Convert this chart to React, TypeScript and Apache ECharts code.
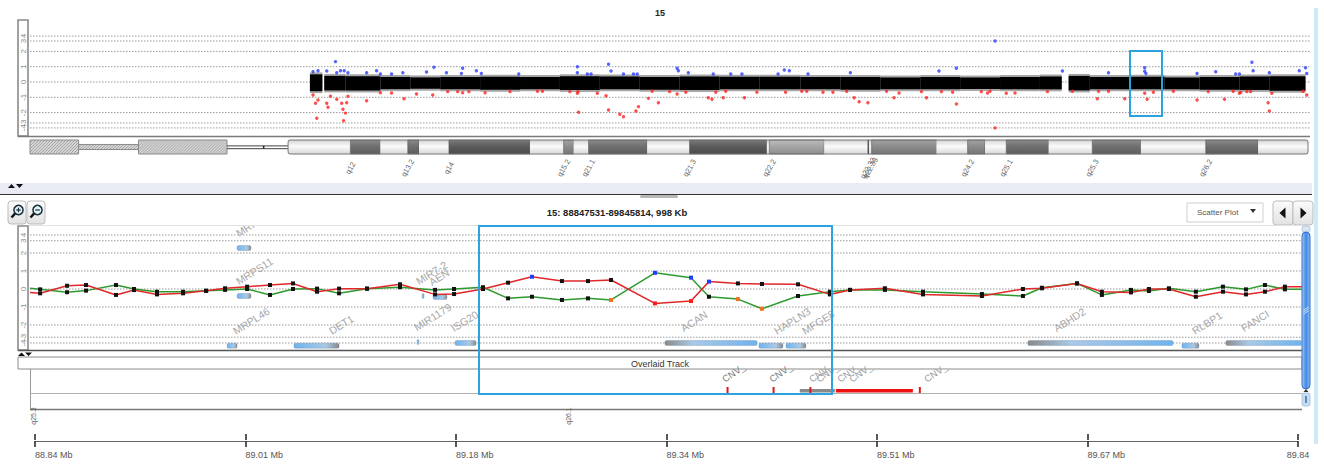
import React, { useEffect, useRef } from "react";
import * as echarts from "echarts";

const W = 1324;
const H = 466;
const FONT = "'Liberation Sans', Arial, sans-serif";

// ---------------- top panel: whole chromosome 15 (positions in Mb) ----------------
const chromTitle = "15";
const chromLengthMb = 102.5;
const logRatioTicks = [4, 3, 2, 1, 0, -1, -2, -3, -4];

const cytoStart = [0, 3.9, 8.7, 15.8, 20.7, 25.7, 28.1, 30.3, 31.2, 33.6, 40.1, 42.8, 43.6, 44.8, 49.5, 52.9, 59.1, 59.3, 63.7, 67.2, 67.3, 67.5, 72.7, 75.2, 76.6, 78.3, 81.7, 85.2, 89.1, 94.3, 98.5];
const cytoEnd = [3.9, 8.7, 15.8, 20.7, 25.7, 28.1, 30.3, 31.2, 33.6, 40.1, 42.8, 43.6, 44.8, 49.5, 52.9, 59.1, 59.3, 63.7, 67.2, 67.3, 67.5, 72.7, 75.2, 76.6, 78.3, 81.7, 85.2, 89.1, 94.3, 98.5, 102.5];
const cytoStain = ["gvar", "stalk", "gvar", "acen", "gneg", "gpos75", "gneg", "gpos75", "gneg", "gpos100", "gneg", "gpos50", "gneg", "gpos75", "gneg", "gpos100", "gneg", "gpos25", "gneg", "gpos100", "gneg", "gpos50", "gneg", "gpos50", "gneg", "gpos75", "gneg", "gpos75", "gneg", "gpos75", "gneg"];
const qArmStart = 20.7;

const cytoLabelName = ["q12", "q13.2", "q14", "q15.2", "q21.1", "q21.3", "q22.2", "q22.32", "q22.33", "q24.2", "q25.1", "q25.3", "q26.2"];
const cytoLabelPos = [25.7, 30.3, 33.6, 42.8, 44.8, 52.9, 59.3, 67.2, 67.4, 75.2, 78.3, 85.2, 94.3];

// dense probe cloud (log ratio envelope per segment)
const denseStart = [22.45, 23.6, 25.3, 28.1, 30.5, 32.9, 36.1, 39.3, 42.5, 45.7, 48.9, 52.1, 55.3, 58.5, 61.8, 65.0, 68.2, 71.4, 74.6, 77.8, 81.0, 83.3, 85.0, 88.2, 91.0, 93.8, 97.0, 99.4];
const denseEnd = [23.45, 25.3, 28.1, 30.5, 32.9, 36.1, 39.3, 42.5, 45.7, 48.9, 52.1, 55.3, 58.5, 61.8, 65.0, 68.2, 71.4, 74.6, 77.8, 81.0, 82.75, 85.0, 88.2, 91.0, 93.8, 97.0, 99.4, 102.3];
const denseHi = [0.5, 0.4, 0.38, 0.33, 0.3, 0.33, 0.35, 0.32, 0.38, 0.36, 0.33, 0.36, 0.34, 0.35, 0.33, 0.32, 0.3, 0.32, 0.29, 0.32, 0.36, 0.4, 0.33, 0.35, 0.3, 0.33, 0.36, 0.38];
const denseLo = [-0.6, -0.55, -0.55, -0.47, -0.44, -0.47, -0.5, -0.47, -0.52, -0.48, -0.5, -0.52, -0.47, -0.48, -0.47, -0.5, -0.47, -0.47, -0.45, -0.47, -0.48, -0.55, -0.48, -0.48, -0.47, -0.5, -0.52, -0.57];

// gains (blue) and losses (red)
const gainPos = [22.7, 23.1, 23.8, 24.5, 24.6, 24.9, 25.2, 25.5, 27.0, 27.8, 28.1, 29.0, 29.9, 31.8, 32.4, 33.4, 34.6, 34.7, 35.8, 36.2, 39.2, 43.9, 43.9, 44.7, 45.0, 46.4, 46.6, 47.6, 48.4, 48.7, 51.9, 52.0, 52.8, 54.8, 56.2, 57.1, 60.0, 60.5, 60.9, 62.4, 65.8, 72.9, 74.3, 77.4, 82.8, 86.5, 89.4, 89.4, 89.5, 93.6, 95.1, 96.7, 97.0, 98.0, 98.1, 99.4, 101.8, 102.3, 102.4];
const gainVal = [0.67, 0.74, 0.72, 1.33, 0.6, 0.74, 0.74, 0.6, 0.6, 0.74, 0.52, 0.52, 0.6, 0.65, 0.96, 0.6, 0.55, 0.9, 0.74, 0.55, 0.52, 1.0, 0.6, 0.52, 0.52, 1.16, 0.72, 0.52, 0.52, 0.52, 0.9, 0.74, 0.6, 0.52, 0.52, 0.52, 0.52, 0.78, 0.74, 0.52, 0.6, 0.72, 0.9, 3.0, 0.72, 0.6, 0.93, 0.7, 0.55, 0.55, 0.67, 0.52, 0.52, 1.29, 0.74, 0.6, 0.74, 0.93, 0.55];
const lossPos = [22.7, 22.9, 23.0, 23.1, 23.8, 23.9, 24.1, 24.6, 25.0, 25.1, 25.15, 25.3, 25.4, 25.5, 27.0, 28.1, 29.0, 30.0, 31.0, 32.3, 33.5, 34.3, 34.7, 35.2, 36.5, 38.5, 40.7, 41.1, 43.3, 43.9, 43.95, 44.0, 45.5, 46.2, 46.4, 47.3, 47.6, 48.6, 48.8, 49.6, 49.9, 50.4, 51.3, 51.9, 52.6, 54.4, 54.7, 55.0, 55.6, 55.8, 57.3, 58.3, 60.6, 61.9, 62.3, 63.6, 64.4, 65.5, 66.1, 66.5, 67.2, 68.7, 69.3, 69.7, 71.5, 71.9, 73.1, 74.0, 74.3, 76.3, 76.8, 77.0, 77.4, 78.3, 79.0, 81.6, 83.6, 85.6, 85.7, 86.5, 87.8, 89.4, 89.6, 90.1, 91.7, 93.6, 94.5, 95.8, 96.5, 97.0, 97.1, 97.6, 97.9, 99.3, 99.4, 99.6, 102.1, 102.4];
const lossVal = [-0.85, -1.39, -2.54, -1.18, -1.39, -1.65, -0.93, -1.13, -1.39, -1.78, -2.78, -2.05, -1.35, -0.93, -1.22, -0.7, -0.72, -1.09, -0.78, -0.85, -0.63, -0.63, -0.7, -0.63, -0.7, -0.63, -0.6, -0.6, -0.63, -0.74, -0.63, -1.98, -0.74, -0.9, -1.83, -2.16, -2.4, -1.9, -1.61, -1.07, -0.6, -1.35, -0.63, -0.78, -0.67, -1.03, -1.13, -0.67, -1.03, -0.6, -1.03, -0.67, -0.67, -0.6, -0.6, -0.67, -0.67, -0.6, -1.03, -1.29, -1.35, -0.6, -1.03, -0.72, -0.63, -1.03, -0.63, -0.67, -1.44, -0.63, -0.72, -0.6, -4.0, -0.74, -0.72, -0.63, -0.6, -1.09, -0.6, -0.6, -1.09, -0.74, -1.13, -0.67, -0.6, -1.18, -0.63, -1.13, -0.6, -0.74, -0.67, -0.63, -0.63, -1.35, -1.9, -0.74, -0.6, -0.85];

// ---------------- middle panel: 15:88847531-89845814 (Mb) ----------------
const regionTitle = "15: 88847531-89845814, 998 Kb";
const regionStartBp = 88847531;
const regionEndBp = 89845814;

const probePos = [88.8435, 88.8515, 88.8728, 88.8878, 88.9115, 88.9257, 88.9439, 88.9645, 88.9827, 88.9977, 89.0151, 89.0332, 89.0514, 89.0704, 89.0878, 89.1099, 89.136, 89.1637, 89.1787, 89.2016, 89.2214, 89.2403, 89.264, 89.2846, 89.3028, 89.3375, 89.366, 89.3802, 89.4031, 89.4221, 89.4506, 89.4758, 89.4917, 89.5193, 89.5494, 89.596, 89.6284, 89.6434, 89.6711, 89.6908, 89.7138, 89.728, 89.7438, 89.7651, 89.7865, 89.8047, 89.8197, 89.8355, 89.8489];
const redVals = [-0.2, -0.24, 0.18, 0.22, -0.33, -0.06, -0.3, -0.24, -0.1, 0.04, 0.13, 0.22, 0.31, -0.15, 0.02, 0.02, 0.26, -0.3, -0.28, 0.0, 0.35, 0.68, 0.44, 0.44, 0.5, -0.8, -0.67, 0.41, 0.31, 0.28, 0.26, -0.3, -0.05, 0.04, -0.3, -0.39, 0.0, 0.04, 0.31, -0.15, -0.19, 0.0, 0.0, -0.43, -0.15, -0.3, -0.15, 0.13, 0.13];
const greenVals = [0.04, -0.02, -0.18, -0.09, 0.22, 0.0, -0.15, -0.15, -0.1, -0.05, 0.0, -0.33, 0.0, 0.02, -0.24, 0.02, 0.1, -0.05, 0.0, 0.1, -0.52, -0.43, -0.61, -0.52, -0.61, 0.9, 0.63, -0.43, -0.56, -1.1, -0.39, -0.15, -0.05, -0.05, -0.15, -0.28, -0.39, 0.07, 0.31, -0.33, -0.05, -0.11, 0.04, -0.15, 0.13, -0.02, 0.22, -0.02, -0.02];
const redGainIdx = [21, 27];
const redLossIdx = [25, 26];
const greenGainIdx = [25, 26];
const greenLossIdx = [24, 28, 29];

const geneName = ["MRPL46", "MRPS11", "MRPL46", "DET1", "MIR1179", "MIR7-2", "AEN", "ISG20", "ACAN", "HAPLN3", "MFGE8", "ABHD2", "RLBP1", "FANCI"];
const geneStart = [89.0072, 89.0072, 88.9993, 89.0522, 89.1494, 89.1534, 89.1621, 89.1795, 89.3454, 89.4197, 89.4411, 89.6323, 89.7541, 89.7888];
const geneEnd = [89.0182, 89.0182, 89.0072, 89.0878, 89.151, 89.155, 89.1731, 89.1961, 89.4182, 89.4387, 89.4569, 89.747, 89.7675, 89.8489];
const geneTrackY = [2.28, -0.39, -3.15, -3.15, -2.95, -0.39, -0.44, -3.0, -3.0, -3.15, -3.15, -3.0, -3.15, -3.0];
const geneLabelPos = [89.0095, 89.0095, 89.0072, 89.083, 89.1502, 89.1518, 89.1621, 89.1795, 89.3612, 89.4348, 89.4569, 89.656, 89.7652, 89.8039];
const geneStrand = ["-", "-", "-", "-", "+", "+", "-", "-", "+", "-", "-", "+", "-", "+"];

const cnvStart = [89.3945, 89.4309, 89.452, 89.46, 89.4805, 89.5465];
const cnvEnd = [89.396, 89.4324, 89.4797, 89.4615, 89.5414, 89.548];
const cnvKind = ["tick", "tick", "gray", "tick", "red", "tick"];
const cnvLabelPos = [89.3952, 89.4324, 89.464, 89.4696, 89.4862, 89.4957, 89.5549];
const cnvLabel = "CNV_";

const zoomBandName = ["q25.3", "q26.1"];
const zoomBandPos = [88.846, 89.2688];

// ---------------- helpers ----------------
const KN = [0, 1, 2, 3, 4];
const KD = [0, 1, 2, 2.68, 3.0];
function g(v: number): number {
  const s = v < 0 ? -1 : 1;
  const a = Math.abs(v);
  for (let i = 0; i < 4; i++) {
    if (a <= KN[i + 1]) return s * (KD[i] + (a - KN[i]) * (KD[i + 1] - KD[i]));
  }
  return s * (3 + (a - 4) * 0.32);
}

const TOP_MIN = 0;
const TOP_MAX = chromLengthMb;
const MID_MIN = 88.8435;
const MID_MAX = 89.849;
const rulerSpanKb = (regionEndBp - regionStartBp) / 1000;

function vgrad(c: string[]) {
  return { type: "linear", x: 0, y: 0, x2: 0, y2: 1, colorStops: [{ offset: 0, color: c[0] }, { offset: 0.45, color: c[1] }, { offset: 1, color: c[2] }] };
}
const stainFill: Record<string, string[]> = {
  gneg: ["#d4d4d4", "#fbfbfb", "#d8d8d8"],
  gpos25: ["#bcbcbc", "#a6a6a6", "#8e8e8e"],
  gpos50: ["#a2a2a2", "#8c8c8c", "#767676"],
  gpos75: ["#8a8a8a", "#707070", "#5c5c5c"],
  gpos100: ["#7a7a7a", "#5c5c5c", "#4a4a4a"],
};

function hatch(x: number, y: number, w: number, h: number) {
  const out: any[] = [];
  for (let s = x - h; s < x + w; s += 3) {
    let x1 = s, y1 = y + h, x2 = s + h, y2 = y;
    if (x1 < x) { y1 -= x - x1; x1 = x; }
    if (x2 > x + w) { y2 += x2 - (x + w); x2 = x + w; }
    if (x2 > x1) out.push({ type: "line", shape: { x1, y1, x2, y2 }, style: { stroke: "#8e8e8e", lineWidth: 0.7 } });
  }
  return out;
}

function tickSeries(xAxisIndex: number, yAxisIndex: number, xs: number, xe: number) {
  return {
    type: "custom",
    xAxisIndex,
    yAxisIndex,
    silent: true,
    encode: { x: 0, y: 1 },
    data: logRatioTicks.map((v) => [xs, g(v), v]),
    renderItem: (params: any, api: any) => {
      const d = api.value(1);
      const p0 = api.coord([xs, d]);
      const p1 = api.coord([xe, d]);
      return {
        type: "group",
        children: [
          { type: "line", shape: { x1: p0[0], y1: p0[1], x2: p1[0], y2: p1[1] }, style: { stroke: "#9a9a9a", lineWidth: 1, lineDash: [1.5, 1.5] } },
          { type: "text", x: p0[0] - 7, y: p0[1], rotation: Math.PI / 2, style: { text: String(api.value(2)), fill: "#8c8c8c", fontSize: 8, fontFamily: FONT, align: "center", verticalAlign: "middle" } },
        ],
      };
    },
  };
}

function tri(points: number[][], fill = "#111") {
  return { type: "polygon", shape: { points }, style: { fill } };
}

function magnifier(cx: number, cy: number, plus: boolean) {
  const ch: any[] = [
    { type: "line", shape: { x1: cx - 3, y1: cy + 3, x2: cx - 7, y2: cy + 7.5 }, style: { stroke: "#111", lineWidth: 2.5 } },
    { type: "circle", shape: { cx, cy, r: 4.6 }, style: { fill: "#dff4f7", stroke: "#1b2f3a", lineWidth: 1.5 } },
    { type: "line", shape: { x1: cx - 2.3, y1: cy, x2: cx + 2.3, y2: cy }, style: { stroke: "#1b2f3a", lineWidth: 1.2 } },
  ];
  if (plus) ch.push({ type: "line", shape: { x1: cx, y1: cy - 2.3, x2: cx, y2: cy + 2.3 }, style: { stroke: "#1b2f3a", lineWidth: 1.2 } });
  return ch;
}

function denseSeries(pad: number, color: string, opacity: number) {
  return {
    type: "custom",
    xAxisIndex: 0,
    yAxisIndex: 0,
    silent: true,
    encode: { x: [0, 1], y: [2, 3] },
    data: denseStart.map((s, i) => [s, denseEnd[i], g(denseLo[i]), g(denseHi[i])]),
    renderItem: (params: any, api: any) => {
      const a = api.coord([api.value(0), api.value(3) + pad]);
      const b = api.coord([api.value(1), api.value(2) - pad]);
      return { type: "rect", shape: { x: a[0], y: a[1], width: b[0] - a[0], height: b[1] - a[1] }, style: { fill: color, opacity } };
    },
  };
}

function buildOption() {
  const btnFill = { type: "linear", x: 0, y: 0, x2: 0, y2: 1, colorStops: [{ offset: 0, color: "#fbfbfb" }, { offset: 1, color: "#e2e2e2" }] };
  const scrollFill = { type: "linear", x: 0, y: 0, x2: 1, y2: 0, colorStops: [{ offset: 0, color: "#a9cff7" }, { offset: 0.5, color: "#3f86e2" }, { offset: 1, color: "#8fc0f3" }] };

  const graphic: any[] = [
    { type: "rect", shape: { x: 1314, y: 8, width: 4, height: 436 }, style: { fill: "#cfe9f7" } },
    { type: "text", x: 660, y: 13, style: { text: chromTitle, fill: "#222", font: `bold 9px ${FONT}`, align: "center", verticalAlign: "middle" } },
    { type: "rect", shape: { x: 18, y: 20, width: 10, height: 116 }, style: { fill: "none", stroke: "#8a8a8a", lineWidth: 1.6 } },
    { type: "line", shape: { x1: 18, y1: 136.5, x2: 1310, y2: 136.5 }, style: { stroke: "#7a7a7a", lineWidth: 1.6 } },
    { type: "rect", shape: { x: 0, y: 183, width: 1312, height: 11 }, style: { fill: "#e8eaf4" } },
    { type: "line", shape: { x1: 0, y1: 194.5, x2: 1312, y2: 194.5 }, style: { stroke: "#333", lineWidth: 1 } },
    tri([[8, 188], [11.5, 184], [15, 188]]),
    tri([[16, 184], [23, 184], [19.5, 188]]),
    { type: "rect", shape: { x: 640, y: 195, width: 38, height: 3, r: 1.5 }, style: { fill: "#b8b8b8" } },
    { type: "rect", shape: { x: 8, y: 201, width: 18, height: 23, r: 3 }, style: { fill: btnFill, stroke: "#bdbdbd", lineWidth: 1 } },
    { type: "rect", shape: { x: 27, y: 201, width: 18, height: 23, r: 3 }, style: { fill: btnFill, stroke: "#bdbdbd", lineWidth: 1 } },
    ...magnifier(18.5, 210, true),
    ...magnifier(37.5, 210, false),
    { type: "text", x: 617, y: 212, style: { text: regionTitle, fill: "#222", font: `bold 9.5px ${FONT}`, align: "center", verticalAlign: "middle" } },
    { type: "rect", shape: { x: 1187, y: 203, width: 76, height: 19 }, style: { fill: "#fff", stroke: "#cfcfcf", lineWidth: 1 } },
    { type: "text", x: 1197, y: 212.5, style: { text: "Scatter Plot", fill: "#555", fontSize: 8, fontFamily: FONT, align: "left", verticalAlign: "middle" } },
    tri([[1250, 209], [1256, 209], [1253, 213]], "#333"),
    { type: "rect", shape: { x: 1273, y: 201, width: 20, height: 24, r: 3 }, style: { fill: btnFill, stroke: "#bdbdbd", lineWidth: 1 } },
    { type: "rect", shape: { x: 1293, y: 201, width: 20, height: 24, r: 3 }, style: { fill: btnFill, stroke: "#bdbdbd", lineWidth: 1 } },
    tri([[1279.5, 213], [1285.5, 207.5], [1285.5, 218.5]]),
    tri([[1306.5, 213], [1300.5, 207.5], [1300.5, 218.5]]),
    { type: "line", shape: { x1: 28, y1: 225.5, x2: 1302, y2: 225.5 }, style: { stroke: "#e2e2e2", lineWidth: 1 } },
    { type: "rect", shape: { x: 18, y: 226, width: 10, height: 124 }, style: { fill: "none", stroke: "#8a8a8a", lineWidth: 1.6 } },
    { type: "line", shape: { x1: 18, y1: 350.5, x2: 1302, y2: 350.5 }, style: { stroke: "#555", lineWidth: 1.6 } },
    tri([[18, 356], [21.5, 352.5], [25, 356]]),
    tri([[25, 352.5], [32, 352.5], [28.5, 356]]),
    { type: "rect", shape: { x: 18, y: 357, width: 1284, height: 12 }, style: { fill: "#fff", stroke: "#8a8a8a", lineWidth: 1 } },
    { type: "text", x: 660, y: 363.5, style: { text: "Overlaid Track", fill: "#333", fontSize: 9, fontFamily: FONT, align: "center", verticalAlign: "middle" } },
    { type: "line", shape: { x1: 30.5, y1: 369, x2: 30.5, y2: 410 }, style: { stroke: "#999", lineWidth: 1 } },
    { type: "line", shape: { x1: 30, y1: 393.5, x2: 1302, y2: 393.5 }, style: { stroke: "#b0b0b0", lineWidth: 1 } },
    { type: "line", shape: { x1: 30, y1: 409.5, x2: 1302, y2: 409.5 }, style: { stroke: "#777", lineWidth: 1.5 } },
    { type: "rect", shape: { x: 1302, y: 226, width: 8, height: 6, r: 2 }, style: { fill: "#d8e6f3", stroke: "#a8bfd6", lineWidth: 0.8 } },
    { type: "rect", shape: { x: 1302, y: 232, width: 8, height: 157, r: 4 }, style: { fill: scrollFill, stroke: "#2f6fc8", lineWidth: 1 } },
    { type: "line", shape: { x1: 1303.5, y1: 310, x2: 1308.5, y2: 307 }, style: { stroke: "#dfeefc", lineWidth: 0.8 } },
    { type: "line", shape: { x1: 1303.5, y1: 312, x2: 1308.5, y2: 309 }, style: { stroke: "#dfeefc", lineWidth: 0.8 } },
    { type: "line", shape: { x1: 1303.5, y1: 314, x2: 1308.5, y2: 311 }, style: { stroke: "#dfeefc", lineWidth: 0.8 } },
    { type: "rect", shape: { x: 1302, y: 393, width: 8, height: 13, r: 2 }, style: { fill: "#c6def4", stroke: "#9fbddb", lineWidth: 0.8 } },
    tri([[1303.5, 392], [1306, 389], [1308.5, 392]], "#333"),
    { type: "line", shape: { x1: 1306, y1: 396, x2: 1306, y2: 403 }, style: { stroke: "#2a4a7a", lineWidth: 1.2 } },
    { type: "rect", z: 100, shape: { x: 1130, y: 51, width: 32, height: 65 }, style: { fill: "none", stroke: "#2aa3de", lineWidth: 2 } },
    { type: "rect", z: 100, shape: { x: 479, y: 226, width: 353, height: 168 }, style: { fill: "none", stroke: "#2aa3de", lineWidth: 2 } },
  ];

  const hiddenX = (gi: number, min: number, max: number) => ({ gridIndex: gi, type: "value", min, max, show: false });
  const hiddenY = (gi: number, min: number, max: number) => ({ gridIndex: gi, type: "value", min, max, show: false });

  const rulerFmt = (v: number) => {
    const mb = (regionStartBp + v * 1000) / 1e6;
    const t = (Math.floor(mb * 100 + 1e-6) / 100).toFixed(2);
    return v >= rulerSpanKb - 1e-6 ? t : t + " Mb";
  };

  const markerColor = (i: number, gain: number[], loss: number[], lossColor: string) =>
    gain.includes(i) ? "#1f3cff" : loss.includes(i) ? lossColor : "#111";

  const lineData = (vals: number[], gain: number[], loss: number[], lossColor: string) =>
    probePos.map((x, i) => ({
      value: [x, g(vals[i])],
      symbol: i === 0 || i === probePos.length - 1 ? "none" : "rect",
      itemStyle: { color: markerColor(i, gain, loss, lossColor) },
    }));

  const series: any[] = [
    tickSeries(0, 0, TOP_MIN, TOP_MAX + 0.16),
    denseSeries(0.13, "#000", 0.35),
    denseSeries(0, "#000", 1),
    {
      type: "scatter",
      xAxisIndex: 0,
      yAxisIndex: 0,
      symbol: "circle",
      symbolSize: 3.4,
      itemStyle: { color: "#2a3cff" },
      data: gainPos.map((p, i) => [p, g(gainVal[i])]),
    },
    {
      type: "scatter",
      xAxisIndex: 0,
      yAxisIndex: 0,
      symbol: "circle",
      symbolSize: 3.4,
      itemStyle: { color: "#ff2222" },
      data: lossPos.map((p, i) => [p, g(lossVal[i])]),
    },
    {
      type: "custom",
      xAxisIndex: 1,
      yAxisIndex: 1,
      silent: true,
      encode: { x: [0, 1], y: [2, 3] },
      data: cytoStart.map((s, i) => [s, cytoEnd[i], 0, 1]),
      renderItem: (params: any, api: any) => {
        const stain = cytoStain[params.dataIndex];
        const p0 = api.coord([api.value(0), 1]);
        const p1 = api.coord([api.value(1), 0]);
        const x = p0[0], y = p0[1], w = p1[0] - p0[0], h = p1[1] - p0[1];
        if (stain === "acen") {
          return {
            type: "group",
            children: [
              { type: "line", shape: { x1: x, y1: y + h * 0.42, x2: x + w, y2: y + h * 0.42 }, style: { stroke: "#444", lineWidth: 1 } },
              { type: "line", shape: { x1: x, y1: y + h * 0.62, x2: x + w, y2: y + h * 0.62 }, style: { stroke: "#444", lineWidth: 1 } },
              { type: "line", shape: { x1: x + w * 0.6, y1: y + h * 0.42, x2: x + w * 0.6, y2: y + h * 0.62 }, style: { stroke: "#222", lineWidth: 1.5 } },
            ],
          };
        }
        if (stain === "gvar" || stain === "stalk") {
          const yy = stain === "stalk" ? y + h * 0.32 : y;
          const hh = stain === "stalk" ? h * 0.36 : h;
          return {
            type: "group",
            children: [
              { type: "rect", shape: { x, y: yy, width: w, height: hh }, style: { fill: "#d6d6d6" } },
              ...hatch(x, yy, w, hh),
              { type: "rect", shape: { x, y: yy, width: w, height: hh }, style: { fill: "none", stroke: "#8a8a8a", lineWidth: 1 } },
            ],
          };
        }
        const dark = stain !== "gneg";
        return {
          type: "rect",
          shape: { x, y, width: w, height: h },
          style: { fill: vgrad(stainFill[stain]), stroke: dark ? "#555" : "none", lineWidth: dark ? 0.6 : 0 },
        };
      },
    },
    {
      type: "custom",
      xAxisIndex: 1,
      yAxisIndex: 1,
      silent: true,
      encode: { x: [0, 1], y: [2, 3] },
      data: [[qArmStart, chromLengthMb, 0, 1]],
      renderItem: (params: any, api: any) => {
        const p0 = api.coord([api.value(0), 1]);
        const p1 = api.coord([api.value(1), 0]);
        return { type: "rect", shape: { x: p0[0], y: p0[1], width: p1[0] - p0[0], height: p1[1] - p0[1], r: 2 }, style: { fill: "none", stroke: "#777", lineWidth: 1 } };
      },
    },
    {
      type: "custom",
      xAxisIndex: 1,
      yAxisIndex: 1,
      silent: true,
      encode: { x: 0, y: 1 },
      data: cytoLabelPos.map((p) => [p, 0]),
      renderItem: (params: any, api: any) => {
        const c = api.coord([api.value(0), 0]);
        return {
          type: "text",
          x: c[0],
          y: c[1] + 14,
          rotation: Math.PI / 3,
          style: { text: cytoLabelName[params.dataIndex], fill: "#666", fontSize: 7.5, fontFamily: FONT, align: "center", verticalAlign: "middle" },
        };
      },
    },
    tickSeries(2, 2, MID_MIN, MID_MAX),
    {
      type: "custom",
      xAxisIndex: 2,
      yAxisIndex: 2,
      silent: true,
      clip: true,
      encode: { x: [0, 1, 3], y: 2 },
      data: geneStart.map((s, i) => [s, geneEnd[i], geneTrackY[i], geneLabelPos[i]]),
      renderItem: (params: any, api: any) => {
        const i = params.dataIndex;
        const a = api.coord([api.value(0), api.value(2)]);
        const b = api.coord([api.value(1), api.value(2)]);
        const lp = api.coord([api.value(3), api.value(2)]);
        const w = Math.max(2, b[0] - a[0]);
        const plus = geneStrand[i] === "+";
        const stops = plus
          ? [{ offset: 0, color: "#8a8a8a" }, { offset: 0.3, color: "#a9c9e6" }, { offset: 1, color: "#6fb3ee" }]
          : [{ offset: 0, color: "#6fb3ee" }, { offset: 0.7, color: "#a9c9e6" }, { offset: 1, color: "#8a8a8a" }];
        return {
          type: "group",
          children: [
            { type: "rect", shape: { x: a[0], y: a[1] - 2.5, width: w, height: 5, r: 1.5 }, style: { fill: { type: "linear", x: 0, y: 0, x2: 1, y2: 0, colorStops: stops }, stroke: "rgba(80,110,150,0.5)", lineWidth: 0.5 } },
            { type: "text", x: lp[0], y: lp[1] - 9, rotation: 0.56, style: { text: geneName[i], fill: "#a6a6a6", fontSize: 10.5, fontFamily: FONT, align: "left", verticalAlign: "bottom" } },
          ],
        };
      },
    },
    {
      type: "line",
      xAxisIndex: 2,
      yAxisIndex: 2,
      symbolSize: 4,
      lineStyle: { color: "#2e9a2e", width: 1.5 },
      itemStyle: { color: "#111" },
      data: lineData(greenVals, greenGainIdx, greenLossIdx, "#f07020"),
    },
    {
      type: "line",
      xAxisIndex: 2,
      yAxisIndex: 2,
      symbolSize: 4,
      lineStyle: { color: "#e0282a", width: 1.5 },
      itemStyle: { color: "#111" },
      data: lineData(redVals, redGainIdx, redLossIdx, "#ff1a1a"),
    },
    {
      type: "custom",
      xAxisIndex: 3,
      yAxisIndex: 3,
      silent: true,
      encode: { x: [0, 1], y: 2 },
      data: cnvStart.map((s, i) => [s, cnvEnd[i], 0]),
      renderItem: (params: any, api: any) => {
        const kind = cnvKind[params.dataIndex];
        const a = api.coord([api.value(0), 0]);
        const b = api.coord([api.value(1), 0]);
        if (kind === "tick") {
          return { type: "rect", shape: { x: a[0] - 0.5, y: a[1] - 6, width: 2, height: 6 }, style: { fill: "#e01515" } };
        }
        return { type: "rect", shape: { x: a[0], y: a[1] - 4, width: b[0] - a[0], height: 3.5 }, style: { fill: kind === "red" ? "#ee1111" : "#8a8a8a" } };
      },
    },
    {
      type: "custom",
      xAxisIndex: 3,
      yAxisIndex: 3,
      silent: true,
      encode: { x: 0, y: 1 },
      data: cnvLabelPos.map((p) => [p, 1]),
      renderItem: (params: any, api: any) => {
        const c = api.coord([api.value(0), 0]);
        return {
          type: "text",
          x: c[0] - 2,
          y: c[1] - 9,
          rotation: 0.6,
          style: { text: cnvLabel, fill: params.dataIndex < 2 ? "#808080" : "#a0a0a0", fontSize: 9.5, fontFamily: FONT, align: "left", verticalAlign: "bottom" },
        };
      },
    },
    {
      type: "custom",
      xAxisIndex: 3,
      yAxisIndex: 3,
      silent: true,
      encode: { x: 0, y: 1 },
      data: zoomBandPos.map((p) => [p, 0]),
      renderItem: (params: any, api: any) => {
        const c = api.coord([api.value(0), 0]);
        return {
          type: "text",
          x: c[0],
          y: c[1] + 23,
          rotation: Math.PI / 2,
          style: { text: zoomBandName[params.dataIndex], fill: "#666", fontSize: 7, fontFamily: FONT, align: "center", verticalAlign: "middle" },
        };
      },
    },
  ];

  return {
    animation: false,
    backgroundColor: "#ffffff",
    textStyle: { fontFamily: FONT },
    grid: [
      { left: 30, top: 20, width: 1278, height: 116 },
      { left: 30, top: 140, width: 1278, height: 14 },
      { left: 30, top: 226, width: 1272, height: 124 },
      { left: 30, top: 369, width: 1272, height: 24 },
      { left: 35, top: 440, width: 1263, height: 1 },
    ],
    xAxis: [
      hiddenX(0, TOP_MIN, TOP_MAX),
      hiddenX(1, TOP_MIN, TOP_MAX),
      hiddenX(2, MID_MIN, MID_MAX),
      hiddenX(3, MID_MIN, MID_MAX),
      {
        gridIndex: 4,
        type: "value",
        position: "bottom",
        min: 0,
        max: rulerSpanKb,
        interval: rulerSpanKb / 6,
        axisLine: { show: true, lineStyle: { color: "#666", width: 1 } },
        axisTick: { show: true, length: 6, lineStyle: { color: "#222", width: 1.5 } },
        axisLabel: { show: true, align: "left", margin: 9, fontSize: 9, color: "#555", fontFamily: FONT, formatter: rulerFmt, showMinLabel: true, showMaxLabel: true, alignMaxLabel: "center" },
        splitLine: { show: false },
      },
      {
        gridIndex: 4,
        type: "value",
        position: "top",
        min: 0,
        max: rulerSpanKb,
        interval: rulerSpanKb / 6,
        axisLine: { show: false },
        axisTick: { show: true, length: 6, lineStyle: { color: "#222", width: 1.5 } },
        axisLabel: { show: false },
        splitLine: { show: false },
      },
    ],
    yAxis: [
      hiddenY(0, -3.529, 4.052),
      hiddenY(1, 0, 1),
      hiddenY(2, -3.389, 3.5),
      hiddenY(3, 0, 1),
      hiddenY(4, 0, 1),
    ],
    graphic,
    series,
  };
}

export default function App() {
  const ref = useRef<HTMLDivElement>(null);
  useEffect(() => {
    if (!ref.current) return;
    const chart = echarts.init(ref.current, null, { renderer: "svg" });
    chart.setOption(buildOption() as any);
    return () => chart.dispose();
  }, []);
  return (
    <div
      ref={ref}
      style={{ position: "fixed", left: 0, top: 0, width: W, height: H, background: "#fff" }}
    />
  );
}
